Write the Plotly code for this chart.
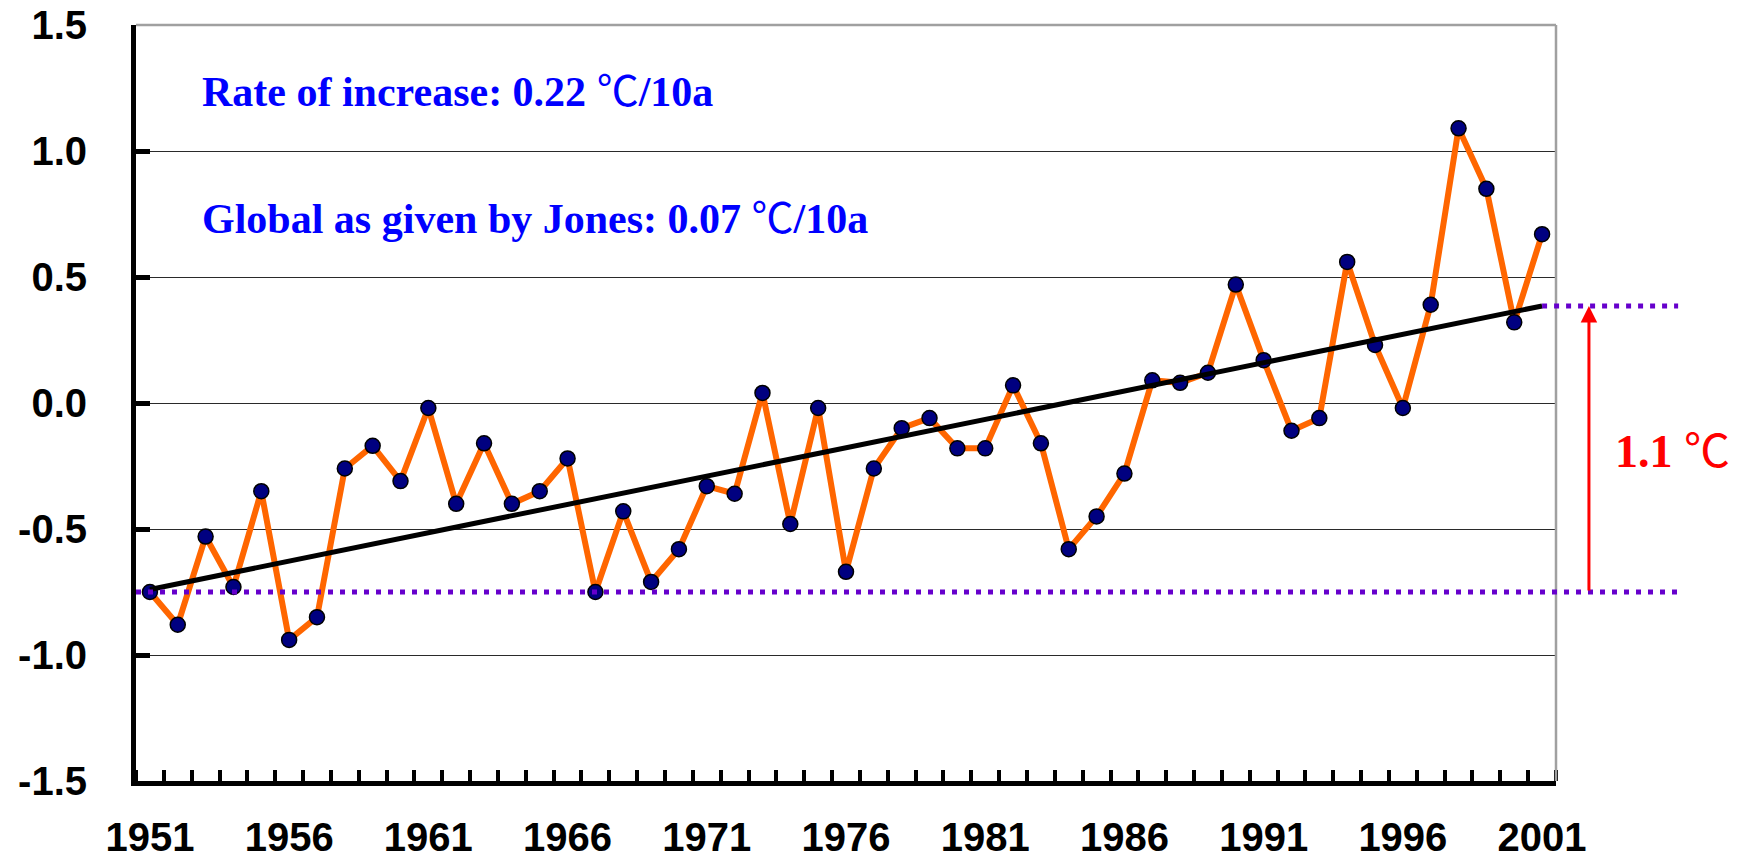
import plotly.graph_objects as go

# ---------------- data ----------------
years = list(range(1951, 2002))
anomaly = [-0.75, -0.88, -0.53, -0.73, -0.35, -0.94, -0.85, -0.26, -0.17, -0.31,
           -0.02, -0.40, -0.16, -0.40, -0.35, -0.22, -0.75, -0.43, -0.71, -0.58,
           -0.33, -0.36, 0.04, -0.48, -0.02, -0.67, -0.26, -0.10, -0.06, -0.18,
           -0.18, 0.07, -0.16, -0.58, -0.45, -0.28, 0.09, 0.08, 0.12, 0.47,
           0.17, -0.11, -0.06, 0.56, 0.23, -0.02, 0.39, 1.09, 0.85, 0.32, 0.67]

trend_years = [1951, 2001]
trend_values = [-0.74, 0.385]

start_level = -0.75      # lower dotted reference line
end_level = 0.385        # upper dotted reference line (trend at 2001)

label_years = [1951, 1956, 1961, 1966, 1971, 1976, 1981, 1986, 1991, 1996, 2001]
y_ticks = [-1.5, -1.0, -0.5, 0.0, 0.5, 1.0, 1.5]
y_tick_text = ["-1.5", "-1.0", "-0.5", "0.0", "0.5", "1.0", "1.5"]

deg = "<span style=\"font-weight:normal;font-family:'Noto Sans CJK SC'\">℃</span>"
text_rate = "Rate of increase: 0.22 " + deg + "/10a"
text_global = "Global as given by Jones: 0.07 " + deg + "/10a"
text_diff = "1.1 " + deg

# ---------------- figure ----------------
x_range = [1950.5, 2001.5]
y_range = [-1.5, 1.5]


def xpaper(v):
    return (v - x_range[0]) / (x_range[1] - x_range[0])


fig = go.Figure()
fig.add_trace(go.Scatter(
    x=years, y=anomaly, mode="lines+markers",
    line=dict(color="#FF6600", width=6),
    marker=dict(size=15, color="#000080", line=dict(color="black", width=1.5)),
    cliponaxis=False, hoverinfo="x+y",
))
fig.add_trace(go.Scatter(
    x=trend_years, y=trend_values, mode="lines",
    line=dict(color="black", width=5), hoverinfo="skip",
))

tick_font = dict(family="Arial, Liberation Sans, sans-serif", size=40, color="black", weight="bold")

fig.update_xaxes(
    range=x_range, tickmode="array", tickvals=label_years,
    ticktext=[str(y) for y in label_years],
    ticks="", showgrid=False, zeroline=False, automargin=False,
    showline=True, linecolor="black", linewidth=5,
    tickfont=tick_font, ticklabelstandoff=17,
    minor=dict(tickmode="linear", tick0=1950.5, dtick=1, ticks="inside",
               ticklen=11, tickwidth=4, tickcolor="black", showgrid=False),
)
fig.update_yaxes(
    range=y_range, tickmode="array", tickvals=y_ticks, ticktext=y_tick_text,
    ticks="inside", ticklen=14, tickwidth=5, tickcolor="black",
    showgrid=True, gridcolor="#2a2a2a", gridwidth=1, zeroline=False,
    automargin=False,
    showline=True, linecolor="black", linewidth=5,
    tickfont=tick_font, ticklabelstandoff=36,
)

purple = "#6600CC"
shapes = [
    # plot-area border (top and right), grey
    dict(type="line", xref="paper", yref="paper", x0=0, x1=1, y0=1, y1=1,
         line=dict(color="#A0A0A0", width=2.5), layer="above"),
    dict(type="line", xref="paper", yref="paper", x0=1, x1=1, y0=0, y1=1,
         line=dict(color="#A0A0A0", width=2.5), layer="above"),
    # dotted reference lines
    dict(type="line", xref="paper", yref="y", x0=0, x1=1.090,
         y0=start_level, y1=start_level,
         line=dict(color=purple, width=5, dash="5px,7px"), layer="above"),
    dict(type="line", xref="paper", yref="y", x0=xpaper(trend_years[-1]), x1=1.086,
         y0=end_level, y1=end_level,
         line=dict(color=purple, width=5, dash="5px,7px"), layer="above"),
]

annotations = [
    dict(text=text_rate, xref="paper", yref="paper", x=0.045, y=0.917,
         xanchor="left", yanchor="middle", showarrow=False,
         font=dict(family="Times New Roman, Liberation Serif, serif", size=42,
                   color="#0000FF", weight="bold")),
    dict(text=text_global, xref="paper", yref="paper", x=0.045, y=0.749,
         xanchor="left", yanchor="middle", showarrow=False,
         font=dict(family="Times New Roman, Liberation Serif, serif", size=42,
                   color="#0000FF", weight="bold")),
    dict(text=text_diff, xref="paper", yref="paper", x=1.040, y=0.442,
         xanchor="left", yanchor="middle", showarrow=False,
         font=dict(family="Times New Roman, Liberation Serif, serif", size=46,
                   color="#FF0000", weight="bold")),
    # red arrow between the two levels
    dict(text="", xref="paper", yref="y", x=1.0232, y=end_level,
         axref="pixel", ax=0, ayref="y", ay=start_level,
         showarrow=True, arrowhead=2, arrowsize=1.1, arrowwidth=3,
         arrowcolor="#FF0000", standoff=0, startstandoff=0),
]

fig.update_layout(
    width=1744, height=865,
    margin=dict(l=136, r=188, t=25, b=84),
    paper_bgcolor="white", plot_bgcolor="white",
    showlegend=False, shapes=shapes, annotations=annotations,
)

fig.write_html("out.html",
               config={"displayModeBar": False},
               post_script="document.body.style.margin='0';document.body.style.overflow='hidden';")
